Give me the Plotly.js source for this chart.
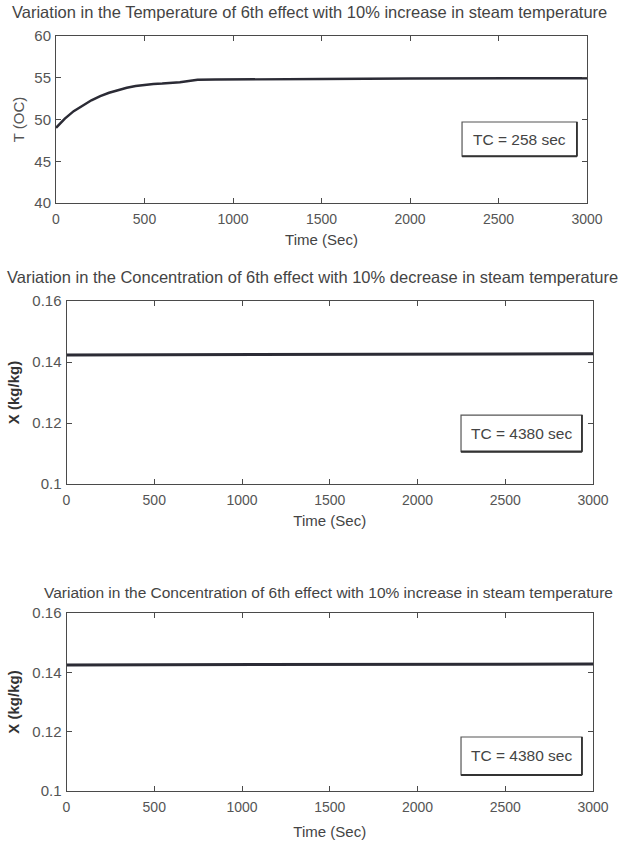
<!DOCTYPE html>
<html>
<head>
<meta charset="utf-8">
<script src="https://cdn.plot.ly/plotly-3.0.1.min.js"></script>
<style>html,body{margin:0;padding:0;background:#fff;}#chart{width:623px;height:845px;}</style>
</head>
<body>
<div id="chart"></div>
<script>
// ---- data ----
const timeTemp = [0, 50, 100, 150, 200, 250, 300, 350, 400, 450, 500, 550, 600, 650, 700, 750, 800, 900, 1000, 1500, 2000, 2500, 3000];
const tempIncrease = [49.0, 50.1, 51.0, 51.7, 52.3, 52.8, 53.2, 53.5, 53.8, 54.0, 54.15, 54.25, 54.3, 54.35, 54.45, 54.6, 54.75, 54.78, 54.8, 54.85, 54.9, 54.9, 54.95];

const timeConc = [0, 1000, 2000, 3000];
const concDecrease = [0.1423, 0.1425, 0.1426, 0.1427];
const concIncrease = [0.1425, 0.1426, 0.1427, 0.1428];

const xTicks = [0, 500, 1000, 1500, 2000, 2500, 3000];
const tempTicks = [40, 45, 50, 55, 60];
const concTicks = [0.1, 0.12, 0.14, 0.16];

const titles = [
  "Variation in the Temperature of 6th effect with 10% increase in steam temperature",
  "Variation in the Concentration of 6th effect with 10% decrease in steam temperature",
  "Variation in the Concentration of 6th effect with 10% increase in steam temperature"
];
const legendTexts = ["TC = 258 sec", "TC = 4380 sec", "TC = 4380 sec"];

// ---- styling ----
const FONT = "Liberation Sans, Arial, sans-serif";
const AX = "#4a4a4a";
const LINE = "#2b2b35";

function xAxis(domain, anchor, standoff) {
  return {
    domain: domain, anchor: anchor, range: [0, 3000], tickvals: xTicks,
    ticks: "inside", ticklen: 5, tickcolor: AX, showline: true, linecolor: AX, linewidth: 1,
    mirror: "ticks", showgrid: false, zeroline: false, ticklabelstandoff: 3,
    tickfont: {family: FONT, size: 14, color: "#555"},
    title: {text: "Time (Sec)", font: {family: FONT, size: 15, color: "#444"}, standoff: standoff}
  };
}
function yAxis(domain, anchor, range, ticks, title, bold) {
  return {
    domain: domain, anchor: anchor, range: range, tickvals: ticks,
    ticks: "inside", ticklen: 5, tickcolor: AX, showline: true, linecolor: AX, linewidth: 1,
    mirror: "ticks", showgrid: false, zeroline: false, ticklabelstandoff: 1,
    tickfont: {family: FONT, size: 15, color: "#555"},
    title: {text: title, font: {family: FONT, size: 15, color: bold ? "#333" : "#555"}, standoff: bold ? 9 : 6}
  };
}

const traces = [
  {x: timeTemp, y: tempIncrease, xaxis: "x", yaxis: "y", mode: "lines", line: {color: LINE, width: 2.5}, hoverinfo: "skip"},
  {x: timeConc, y: concDecrease, xaxis: "x2", yaxis: "y2", mode: "lines", line: {color: LINE, width: 3}, hoverinfo: "skip"},
  {x: timeConc, y: concIncrease, xaxis: "x3", yaxis: "y3", mode: "lines", line: {color: LINE, width: 3}, hoverinfo: "skip"}
];

const W = 623, H = 845;
const px = v => v / W, py = v => 1 - v / H;

// legend boxes (MATLAB-style, with darker bottom/right edge)
const boxes = [
  {xa: "x", ya: "y", x0: 2294, x1: 2943, y0: 45.6, y1: 49.7},
  {xa: "x2", ya: "y2", x0: 2248, x1: 2937, y0: 0.1106, y1: 0.1226},
  {xa: "x3", ya: "y3", x0: 2248, x1: 2937, y0: 0.1054, y1: 0.1182}
];
const shapes = [];
const annotations = [
  {text: titles[0], xref: "paper", yref: "paper", x: px(309), y: py(12), xanchor: "center", yanchor: "middle", showarrow: false, font: {family: FONT, size: 16.5, color: "#444"}},
  {text: titles[1], xref: "paper", yref: "paper", x: px(312), y: py(277), xanchor: "center", yanchor: "middle", showarrow: false, font: {family: FONT, size: 16.5, color: "#444"}},
  {text: titles[2], xref: "paper", yref: "paper", x: px(328), y: py(592), xanchor: "center", yanchor: "middle", showarrow: false, font: {family: FONT, size: 15.5, color: "#444"}}
];
boxes.forEach((b, i) => {
  shapes.push({type: "rect", xref: b.xa, yref: b.ya, x0: b.x0, x1: b.x1, y0: b.y0, y1: b.y1, line: {color: "#555", width: 1.2}, fillcolor: "#fff"});
  shapes.push({type: "line", xref: b.xa, yref: b.ya, x0: b.x0, x1: b.x1, y0: b.y0, y1: b.y0, line: {color: "#333", width: 2.2}});
  shapes.push({type: "line", xref: b.xa, yref: b.ya, x0: b.x1, x1: b.x1, y0: b.y0, y1: b.y1, line: {color: "#333", width: 1.8}});
  annotations.push({text: legendTexts[i], xref: b.xa, yref: b.ya, x: (b.x0 + b.x1) / 2, y: (b.y0 + b.y1) / 2, showarrow: false, font: {family: FONT, size: 15.5, color: "#444"}});
});

const layout = {
  width: W, height: H, margin: {l: 0, r: 0, t: 0, b: 0},
  paper_bgcolor: "#fff", plot_bgcolor: "#fff", showlegend: false,
  xaxis: xAxis([px(56), px(587)], "y", 8),
  yaxis: yAxis([py(203), py(36)], "x", [40, 60], tempTicks, "T (OC)", false),
  xaxis2: xAxis([px(66.5), px(593)], "y2", 8),
  yaxis2: yAxis([py(484), py(301)], "x2", [0.1, 0.16], concTicks, "<b>X (kg/kg)</b>", true),
  xaxis3: xAxis([px(66.5), px(593)], "y3", 12),
  yaxis3: yAxis([py(791), py(613)], "x3", [0.1, 0.16], concTicks, "<b>X (kg/kg)</b>", true),
  shapes: shapes,
  annotations: annotations
};

Plotly.newPlot("chart", traces, layout, {staticPlot: true, displayModeBar: false});
</script>
</body>
</html>
